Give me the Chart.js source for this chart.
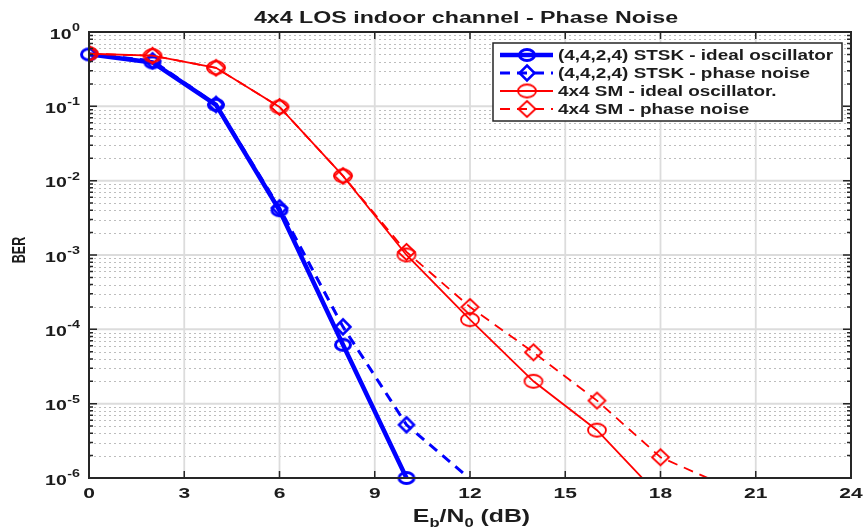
<!DOCTYPE html>
<html>
<head>
<meta charset="utf-8">
<script src="https://cdn.jsdelivr.net/npm/chart.js@4.4.0/dist/chart.umd.min.js"></script>
<style>
html, body { margin: 0; padding: 0; background: #fff; }
#wrap { width: 867px; height: 532px; }
</style>
</head>
<body>
<div id="wrap"><canvas id="berChart" width="867" height="532"></canvas></div>
<script>
// Eb/N0 points (dB) and BER curves
var snr = [0, 2, 4, 6, 8, 10, 12, 14, 16, 18, 20];
var berStskIdeal = [0.5, 0.39, 0.105, 0.0040, 6.2e-5, 1.0e-6];
var berStskPhase = [0.5, 0.41, 0.106, 0.0043, 1.08e-4, 5.2e-6, 9.7e-7];
var berSmIdeal = [0.51, 0.48, 0.33, 0.098, 0.0116, 1.0e-3, 1.35e-4, 2.0e-5, 4.4e-6, 5.5e-7];
var berSmPhase = [0.51, 0.48, 0.33, 0.098, 0.0116, 1.1e-3, 2.0e-4, 4.9e-5, 1.1e-5, 1.9e-6, 8.0e-7];
var seriesLabels = ['(4,4,2,4) STSK - ideal oscillator', '(4,4,2,4) STSK - phase noise', '4x4 SM - ideal oscillator.', '4x4 SM - phase noise'];
var xTickValues = [0, 3, 6, 9, 12, 15, 18, 21, 24];
var yDecadeExps = [0, -1, -2, -3, -4, -5, -6];

var FONT = '"Liberation Sans", Arial, sans-serif';
var TEXT = '#1c1c1c';

function toPoints(ys) {
    return ys.map(function (y, i) { return { x: snr[i], y: y }; });
}
// markers below the axis floor are not shown in the figure
function markerRadius(r) {
    return function (c) { return c.raw && c.raw.y < 1e-6 ? 0 : r; };
}
// the original figure is stretched sideways, so markers are drawn as small images
function makeMarker(shape, color, rx, ry, lw) {
    var c = document.createElement('canvas');
    c.width = Math.ceil(rx * 2 + lw + 2);
    c.height = Math.ceil(ry * 2 + lw + 2);
    var g = c.getContext('2d');
    var cx = c.width / 2, cy = c.height / 2;
    g.strokeStyle = color;
    g.lineWidth = lw;
    g.beginPath();
    if (shape === 'circle') {
        g.ellipse(cx, cy, rx, ry, 0, 0, Math.PI * 2);
    } else {
        g.moveTo(cx, cy - ry); g.lineTo(cx + rx, cy); g.lineTo(cx, cy + ry); g.lineTo(cx - rx, cy); g.closePath();
    }
    g.stroke();
    return c;
}
function stretchText(ctx, text, x, y, sx, align) {
    ctx.save();
    ctx.translate(x, y);
    ctx.scale(sx, 1);
    ctx.textAlign = align;
    ctx.fillText(text, 0, 0);
    ctx.restore();
}

var berDecor = {
    id: 'berDecor',
    beforeDatasetsDraw: function (chart) {
        var ctx = chart.ctx, a = chart.chartArea;
        var xs = chart.scales.x, ys = chart.scales.y;
        ctx.save();
        // minor decade lines, dotted
        ctx.strokeStyle = '#bdbdbd';
        ctx.lineWidth = 1;
        ctx.setLineDash([2, 3]);
        yDecadeExps.forEach(function (e) {
            if (e === 0) return;
            for (var m = 2; m <= 9; m++) {
                var py = Math.round(ys.getPixelForValue(m * Math.pow(10, e))) + 0.5;
                ctx.beginPath(); ctx.moveTo(a.left, py); ctx.lineTo(a.right, py); ctx.stroke();
            }
        });
        ctx.setLineDash([]);
        ctx.strokeStyle = '#dcdcdc';
        ctx.lineWidth = 2;
        yDecadeExps.forEach(function (e) {
            var py = ys.getPixelForValue(Math.pow(10, e));
            ctx.beginPath(); ctx.moveTo(a.left, py); ctx.lineTo(a.right, py); ctx.stroke();
        });
        ctx.lineWidth = 1.8;
        xTickValues.forEach(function (v) {
            var px = xs.getPixelForValue(v);
            ctx.beginPath(); ctx.moveTo(px, a.top); ctx.lineTo(px, a.bottom); ctx.stroke();
        });
        ctx.restore();
    },
    afterDatasetsDraw: function (chart) {
        var ctx = chart.ctx, a = chart.chartArea;
        var xs = chart.scales.x, ys = chart.scales.y;
        ctx.save();
        ctx.strokeStyle = '#262626';
        ctx.fillStyle = TEXT;
        // tick marks, inward
        ctx.lineWidth = 1.5;
        yDecadeExps.forEach(function (e) {
            for (var m = 1; m <= 9; m++) {
                if (e === 0 && m > 1) break;
                var py = ys.getPixelForValue(m * Math.pow(10, e));
                var len = m === 1 ? 8 : 4;
                ctx.beginPath();
                ctx.moveTo(a.left, py); ctx.lineTo(a.left + len, py);
                ctx.moveTo(a.right, py); ctx.lineTo(a.right - len, py);
                ctx.stroke();
            }
        });
        xTickValues.forEach(function (v) {
            var px = xs.getPixelForValue(v);
            ctx.beginPath();
            ctx.moveTo(px, a.bottom); ctx.lineTo(px, a.bottom - 7);
            ctx.moveTo(px, a.top); ctx.lineTo(px, a.top + 7);
            ctx.stroke();
        });
        // axes box
        ctx.lineWidth = 2;
        ctx.strokeRect(a.left, a.top, a.right - a.left, a.bottom - a.top);

        // y tick labels 10^e
        yDecadeExps.forEach(function (e) {
            var py = ys.getPixelForValue(Math.pow(10, e));
            var sup = String(e);
            var right = a.left - 9;
            ctx.font = 'bold 11px ' + FONT;
            var sw = ctx.measureText(sup).width * 1.3;
            ctx.textBaseline = 'alphabetic';
            stretchText(ctx, sup, right - sw, py - 1, 1.3, 'left');
            ctx.font = 'bold 15px ' + FONT;
            ctx.textBaseline = 'middle';
            stretchText(ctx, '10', right - sw - 0.5, py + 2.5, 1.3, 'right');
        });
        // x tick labels
        ctx.font = 'bold 15px ' + FONT;
        ctx.textBaseline = 'top';
        xTickValues.forEach(function (v) {
            stretchText(ctx, String(v), xs.getPixelForValue(v), a.bottom + 8, 1.4, 'center');
        });

        // title
        ctx.font = 'bold 16px ' + FONT;
        ctx.textBaseline = 'alphabetic';
        stretchText(ctx, '4x4 LOS indoor channel - Phase Noise', 466, 23, 1.45, 'center');

        // x axis label E_b/N_0 (dB)
        var sx = 1.38;
        var parts = [['E', 18, 0], ['b', 12, 5], ['/N', 18, 0], ['0', 12, 5], [' (dB)', 18, 0]];
        var total = 0;
        parts.forEach(function (p) { ctx.font = 'bold ' + p[1] + 'px ' + FONT; total += ctx.measureText(p[0]).width * sx; });
        var cx = 471.5 - total / 2;
        parts.forEach(function (p) {
            ctx.font = 'bold ' + p[1] + 'px ' + FONT;
            stretchText(ctx, p[0], cx, 522 + p[2], sx, 'left');
            cx += ctx.measureText(p[0]).width * sx;
        });

        // y axis label
        ctx.save();
        ctx.translate(20, 250);
        ctx.rotate(-Math.PI / 2);
        ctx.scale(1, 1.4);
        ctx.font = 'bold 12.5px ' + FONT;
        ctx.textAlign = 'center';
        ctx.textBaseline = 'middle';
        ctx.fillText('BER', 0, 0);
        ctx.restore();

        // legend box
        var lx = 493, ly = 43, lw = 349, lh = 78;
        ctx.fillStyle = '#ffffff';
        ctx.fillRect(lx, ly, lw, lh);
        ctx.strokeStyle = '#262626';
        ctx.lineWidth = 1.5;
        ctx.strokeRect(lx, ly, lw, lh);
        chart.data.datasets.forEach(function (ds, i) {
            var rowY = ly + 12 + i * 18;
            ctx.save();
            ctx.strokeStyle = ds.borderColor;
            ctx.lineWidth = ds.borderWidth;
            ctx.setLineDash(ds.borderDash || []);
            ctx.beginPath(); ctx.moveTo(lx + 7, rowY); ctx.lineTo(lx + 60, rowY); ctx.stroke();
            ctx.restore();
            var img = ds.pointStyle;
            ctx.drawImage(img, lx + 34 - img.width / 2, rowY - img.height / 2);
            ctx.fillStyle = TEXT;
            ctx.font = 'bold 14px ' + FONT;
            ctx.textBaseline = 'middle';
            stretchText(ctx, ds.label, lx + 65, rowY + 1, 1.35, 'left');
        });
        ctx.restore();
    }
};

var ctx = document.getElementById('berChart').getContext('2d');
var berChart = new Chart(ctx, {
    type: 'line',
    data: {
        datasets: [
            {
                label: seriesLabels[0], data: toPoints(berStskIdeal),
                borderColor: '#0000ff', borderWidth: 4.5,
                pointStyle: makeMarker('circle', '#0000ff', 7.5, 5.5, 3), pointRadius: markerRadius(7),
                clip: 10, order: 3
            },
            {
                label: seriesLabels[1], data: toPoints(berStskPhase),
                borderColor: '#0000ff', borderWidth: 3, borderDash: [10, 7],
                pointStyle: makeMarker('diamond', '#0000ff', 7.5, 7.5, 2.5), pointRadius: markerRadius(7),
                order: 2
            },
            {
                label: seriesLabels[2], data: toPoints(berSmIdeal),
                borderColor: '#ff0000', borderWidth: 1.8,
                pointStyle: makeMarker('circle', '#ff0000', 9, 6.5, 1.8), pointRadius: markerRadius(7),
                order: 1
            },
            {
                label: seriesLabels[3], data: toPoints(berSmPhase),
                borderColor: '#ff0000', borderWidth: 1.8, borderDash: [10, 7],
                pointStyle: makeMarker('diamond', '#ff0000', 8.5, 8, 1.8), pointRadius: markerRadius(7),
                order: 0
            }
        ]
    },
    options: {
        responsive: false,
        animation: false,
        events: [],
        layout: { padding: { left: 89, right: 16, top: 32, bottom: 54 } },
        elements: { line: { tension: 0 } },
        scales: {
            x: { type: 'linear', min: 0, max: 24, display: false },
            y: { type: 'logarithmic', min: 1e-6, max: 1, display: false }
        },
        plugins: {
            legend: { display: false },
            title: { display: false },
            tooltip: { enabled: false }
        }
    },
    plugins: [berDecor]
});
</script>
</body>
</html>
